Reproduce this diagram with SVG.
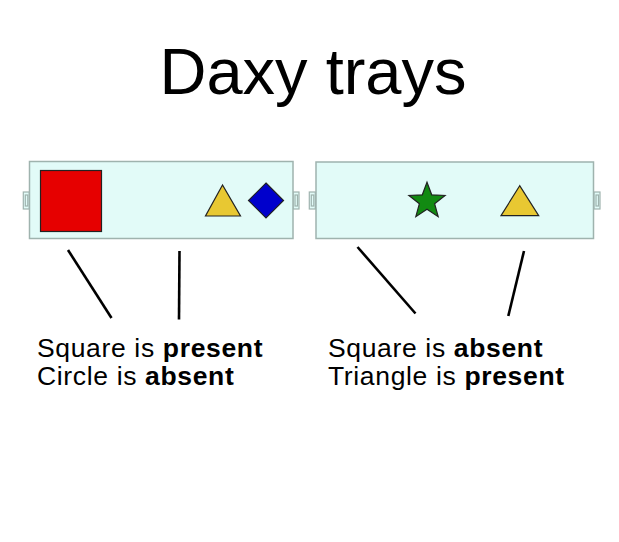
<svg xmlns="http://www.w3.org/2000/svg" width="619" height="542" viewBox="0 0 619 542">
<style>
.tray{fill:#e2fbf8;stroke:#9fb3ae;stroke-width:1.5}
.handle{fill:#e2fbf8;stroke:#9fb3ae;stroke-width:1.2}
.shape{stroke:#222;stroke-width:1.2}
.conn{stroke:#000;stroke-width:2.6;fill:none}
.lbl{font-family:"Liberation Sans",Arial,sans-serif;font-size:26.5px;letter-spacing:0.65px;fill:#000}
.title{font-family:"Liberation Sans",Arial,sans-serif;font-size:65px;fill:#000}
.b{font-weight:bold}
</style>
<rect width="619" height="542" fill="#fff"/>
<text class="title" x="313" y="94" text-anchor="middle">Daxy trays</text>
<g id="tray1">
<rect class="handle" x="23.3" y="192" width="6" height="17"/>
<rect class="handle" x="25.3" y="195" width="2.5" height="11"/>
<rect class="handle" x="293" y="192" width="6" height="17"/>
<rect class="handle" x="295" y="195" width="2.5" height="11"/>
<rect class="tray" x="29.5" y="161.5" width="263.5" height="77"/>
<rect class="shape" x="40.5" y="170.5" width="61" height="61" fill="#e60000"/>
<polygon class="shape" points="222.5,185 205.5,216 240.5,216" fill="#e8c832"/>
<polygon class="shape" points="266,183 283.5,200.5 266,218 248.5,200.5" fill="#0000cc"/>
</g>
<g id="tray2">
<rect class="handle" x="309.3" y="192" width="6" height="17"/>
<rect class="handle" x="311.3" y="195" width="2.5" height="11"/>
<rect class="handle" x="594" y="192" width="6" height="17"/>
<rect class="handle" x="596" y="195" width="2.5" height="11"/>
<rect class="tray" x="316" y="162" width="277.5" height="76.5"/>
<polygon class="shape" points="427,182.3 431.7,194.83 445.07,195.43 434.61,203.77 438.17,216.67 427,209.3 415.83,216.67 419.39,203.77 408.93,195.43 422.3,194.83" fill="#128a12"/>
<polygon class="shape" points="519.7,185.7 501,215.7 538.7,215.7" fill="#e8c832"/>
</g>
<g id="connectors">
<line class="conn" x1="68" y1="250" x2="111.5" y2="318"/>
<line class="conn" x1="179.5" y1="251" x2="179" y2="319.5"/>
<line class="conn" x1="357.5" y1="247" x2="415.5" y2="313.5"/>
<line class="conn" x1="524" y1="251" x2="508.3" y2="316"/>
</g>
<g id="label1">
<text class="lbl" x="37" y="357">Square is <tspan class="b">present</tspan></text>
<text class="lbl" x="37" y="385">Circle is <tspan class="b">absent</tspan></text>
</g>
<g id="label2">
<text class="lbl" x="328" y="357">Square is <tspan class="b">absent</tspan></text>
<text class="lbl" x="328" y="385">Triangle is <tspan class="b">present</tspan></text>
</g>
</svg>
